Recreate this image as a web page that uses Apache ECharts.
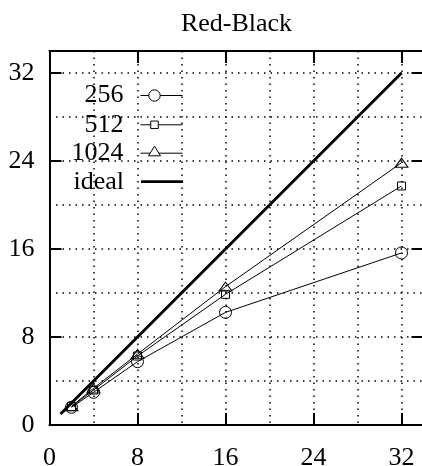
<!DOCTYPE html>
<html>
<head>
<meta charset="utf-8">
<script src="https://cdn.jsdelivr.net/npm/echarts@6/dist/echarts.min.js"></script>
<style>
html,body{margin:0;padding:0;background:#fff;}
#chart{width:422px;height:466px;}
</style>
</head>
<body>
<div id="chart"></div>
<script>
// ---- data ----
var titleText = 'Red-Black';
var xValues = [2, 4, 8, 16, 32];
var s256 = [1.61, 2.97, 5.76, 10.24, 15.64];
var s512 = [1.67, 3.18, 6.27, 11.88, 21.73];
var s1024 = [1.70, 3.33, 6.45, 12.58, 23.84];
var idealX = [1, 32];
var idealY = [1, 32];
var seriesNames = ['256', '512', '1024', 'ideal'];
var axisMin = 0, axisMax = 34, labelStep = 8, gridStep = 4;

function pairs(xs, ys) { return xs.map(function (x, i) { return [x, ys[i]]; }); }

var FONT = '"Liberation Serif", "Times New Roman", serif';
var FS = 26;
var INK = '#000';

// legend icons (box 54 x 30, sample line at y = 15)
var corners = 'M0,0L0,0M54,30L54,30';
var iconCircle = 'path://' + corners + 'M12,15L20.3,15M31.7,15L54,15M20.3,15A5.7,5.7,0,1,1,31.7,15A5.7,5.7,0,1,1,20.3,15Z';
var iconSquare = 'path://' + corners + 'M12,15L22.25,15M29.75,15L54,15M22.25,11.25L29.75,11.25L29.75,18.75L22.25,18.75Z';
var iconTri = 'path://' + corners + 'M12,15L21.6,15M30.4,15L54,15M26,8L32,17.6L20,17.6Z';
var iconIdeal = 'path://' + corners + 'M12,13.6L54,13.6L54,16.4L12,16.4Z';
var hollow = {color: 'rgba(0,0,0,0)', borderColor: INK, borderWidth: 1};
var legendIcons = [iconCircle, iconSquare, iconTri, iconIdeal];
var legendStyles = [hollow, hollow, hollow, {color: INK, borderWidth: 0}];
var legendCenters = [95, 124.3, 152.7, 181.7];

var legends = seriesNames.map(function (nm, i) {
  return {
    orient: 'vertical', align: 'right', right: 239, top: legendCenters[i] - 15, padding: 0,
    itemWidth: 54, itemHeight: 30,
    textStyle: {fontFamily: FONT, fontSize: FS, color: INK, lineHeight: 26},
    selectedMode: false,
    data: [{name: nm, icon: legendIcons[i], itemStyle: legendStyles[i]}]
  };
});

var dotted = {show: true, showMinLine: false, showMaxLine: false,
  lineStyle: {color: INK, width: 1.5, type: [1.5, 5]}};

function valueAxis(extra) {
  var base = {
    type: 'value', min: axisMin, max: axisMax, interval: labelStep,
    gridIndex: 0,
    axisLine: {show: true, onZero: false, lineStyle: {color: INK, width: 2}},
    axisTick: {show: true, inside: true, length: 12, lineStyle: {color: INK, width: 2}},
    axisLabel: {show: false},
    splitLine: {show: false}
  };
  return Object.assign(base, extra);
}
function gridAxis(pos) {
  return {
    type: 'value', min: axisMin, max: axisMax, interval: gridStep, position: pos,
    gridIndex: 0,
    axisLine: {show: false}, axisTick: {show: false}, axisLabel: {show: false},
    splitLine: dotted
  };
}

var chart = echarts.init(document.getElementById('chart'), null, {renderer: 'canvas'});
chart.setOption({
  animation: false,
  backgroundColor: '#fff',
  title: {
    text: titleText, left: 236.5, textAlign: 'center', top: 11, padding: 0,
    textStyle: {fontFamily: FONT, fontSize: FS, fontWeight: 'normal', color: INK, lineHeight: 26}
  },
  grid: {left: 49.5, width: 374, top: 51, height: 374, containLabel: false, outerBoundsMode: 'none'},
  legend: legends,
  xAxis: [
    valueAxis({position: 'bottom', axisLabel: {show: true, margin: 20, showMaxLabel: false,
      fontFamily: FONT, fontSize: FS, color: INK, lineHeight: 26}}),
    valueAxis({position: 'top'}),
    gridAxis('bottom')
  ],
  yAxis: [
    valueAxis({position: 'left', axisLabel: {show: true, margin: 15, showMaxLabel: false,
      fontFamily: FONT, fontSize: FS, color: INK, lineHeight: 26}}),
    valueAxis({position: 'right'}),
    gridAxis('left')
  ],
  series: [
    {name: seriesNames[3], type: 'line', data: pairs(idealX, idealY), showSymbol: false, symbol: 'none',
      lineStyle: {color: INK, width: 2.8}, itemStyle: {color: INK}, z: 3},
    {name: seriesNames[0], type: 'line', data: pairs(xValues, s256), symbol: 'circle', symbolSize: 12,
      lineStyle: {color: INK, width: 1}, itemStyle: hollow, z: 4},
    {name: seriesNames[1], type: 'line', data: pairs(xValues, s512), symbol: 'rect', symbolSize: 8,
      lineStyle: {color: INK, width: 1}, itemStyle: hollow, z: 4},
    {name: seriesNames[2], type: 'line', data: pairs(xValues, s1024), symbol: 'triangle', symbolSize: [13, 9],
      lineStyle: {color: INK, width: 1}, itemStyle: hollow, z: 4}
  ]
});
</script>
</body>
</html>
